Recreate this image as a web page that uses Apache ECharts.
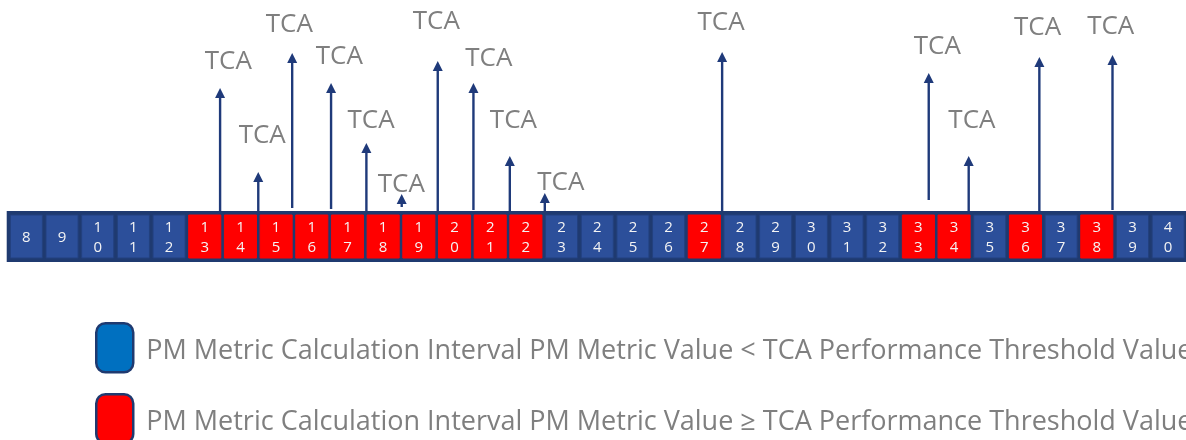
<!DOCTYPE html>
<html>
<head>
<meta charset="utf-8">
<script src="https://cdn.jsdelivr.net/npm/echarts@6/dist/echarts.min.js"></script>
<style>
html,body{margin:0;padding:0;background:#ffffff;}
#chart{width:1186px;height:440px;}
</style>
</head>
<body>
<div id="chart"></div>
<script>
// Calculation intervals shown on the strip
const intervals = [8,9,10,11,12,13,14,15,16,17,18,19,20,21,22,23,24,25,26,27,28,29,30,31,32,33,34,35,36,37,38,39,40];
// 1 = PM metric value >= TCA threshold (red), 0 = below (blue)
const exceeded  = [0,0,0,0,0,1,1,1,1,1,1,1,1,1,1,0,0,0,0,1,0,0,0,0,0,1,1,0,1,0,1,0,0];

// TCA arrows: position on interval axis, arrow tip height, arrow base height
const arrowAt   = [13.43,14.50,15.45,16.54,17.53,18.52,19.53,20.53,21.55,22.53,27.50,33.29,34.41,36.39,38.44];
const arrowTop  = [123,39,158,128,68,17,150,128,55,18,159,138,55,154,156];
const arrowBase = [0,0,3,2,0,4,0,1,0,0,0,11,0,0,1];

// TCA label anchors (interval axis position, height)
const labelAt     = [13.66,14.61,15.37,16.77,17.66,18.51,19.49,20.96,21.65,22.98,27.47,33.53,34.50,36.34,38.39];
const labelHeight = [150,76.5,187,155,91,27.5,190,153,91,29,189,165,91,184,185.5];
const labelText = 'TCA';

const legendBelow = 'PM Metric Calculation Interval PM Metric Value < TCA Performance Threshold Value';
const legendAbove = 'PM Metric Calculation Interval PM Metric Value \u2265 TCA Performance Threshold Value';

const BLUE = '#2c4f9a';
const RED = '#ff0000';
const NAVY = '#1f3a70';
const GRAY = '#7f7f7f';

const belowData = [], aboveData = [];
intervals.forEach((v, i) => { (exceeded[i] ? aboveData : belowData).push([v]); });

function cellRenderer(fill, stroke) {
  return function (params, api) {
    const v = api.value(0);
    const a = api.coord([v - 0.5, -4]);
    const b = api.coord([v + 0.5, -47]);
    const w = b[0] - a[0];
    const s = String(v);
    const txt = s.length > 1 ? s.split('').join('\n') : s;
    return {
      type: 'group',
      children: [
        { type: 'rect', shape: { x: a[0] + 1.8, y: a[1], width: w - 3.6, height: b[1] - a[1] },
          style: { fill: fill, stroke: stroke, lineWidth: 1 } },
        { type: 'text', style: { text: txt, x: (a[0] + b[0]) / 2, y: (a[1] + b[1]) / 2 + 1,
          align: 'center', verticalAlign: 'middle', fill: '#f4f4f4',
          font: '15px "Open Sans"', lineHeight: 20 } }
      ]
    };
  };
}

function legendBox(top, name, fill) {
  return {
    orient: 'vertical', left: 95, top: top, padding: 0, itemWidth: 37, itemHeight: 49,
    selectedMode: false,
    formatter: '{t|{name}}',
    textStyle: {
      fontFamily: 'Open Sans', fontSize: 27, color: GRAY,
      rich: { t: { fontFamily: 'Open Sans', fontSize: 27, color: GRAY, padding: [7, 0, 0, 8] } }
    },
    data: [{ name: name, icon: 'roundRect', itemStyle: { color: fill, borderColor: NAVY, borderWidth: 2.5 } }]
  };
}

const chart = echarts.init(document.getElementById('chart'));
chart.setOption({
  animation: false,
  grid: { left: 8.5, top: 0, width: 1182, height: 262 },
  xAxis: { type: 'value', min: 7.5, max: 40.5, show: false },
  yAxis: { type: 'value', min: -51, max: 211, show: false },
  legend: [legendBox(322, legendBelow, '#0070c0'), legendBox(393, legendAbove, RED)],
  series: [
    {
      type: 'custom', name: 'frame', silent: true,
      data: [[intervals[0] - 0.55, intervals[intervals.length - 1] + 0.5]],
      renderItem: function (params, api) {
        const a = api.coord([api.value(0), 0]);
        const b = api.coord([api.value(1), -51]);
        return { type: 'rect', shape: { x: a[0], y: a[1], width: b[0] - a[0], height: b[1] - a[1] },
          style: { fill: NAVY } };
      }
    },
    { type: 'custom', name: legendBelow, data: belowData, itemStyle: { color: '#0070c0' },
      renderItem: cellRenderer(BLUE, '#23407e') },
    { type: 'custom', name: legendAbove, data: aboveData, itemStyle: { color: RED },
      renderItem: cellRenderer(RED, RED) },
    {
      type: 'custom', name: 'arrows', silent: true,
      data: arrowAt.map((x, i) => [x, arrowTop[i], arrowBase[i]]),
      renderItem: function (params, api) {
        const p0 = api.coord([api.value(0), api.value(2)]);
        const p1 = api.coord([api.value(0), api.value(1)]);
        return {
          type: 'group',
          children: [
            { type: 'line', shape: { x1: p0[0], y1: p0[1], x2: p1[0], y2: p1[1] + 8 },
              style: { stroke: '#1f3a7a', lineWidth: 2.4 } },
            { type: 'polygon', shape: { points: [[p1[0], p1[1]], [p1[0] - 5, p1[1] + 10], [p1[0] + 5, p1[1] + 10]] },
              style: { fill: '#1f3a7a' } }
          ]
        };
      }
    },
    {
      type: 'custom', name: 'labels', silent: true,
      data: labelAt.map((x, i) => [x, labelHeight[i]]),
      renderItem: function (params, api) {
        const p = api.coord([api.value(0), api.value(1)]);
        return { type: 'text', style: { text: labelText, x: p[0], y: p[1] + 1, align: 'center',
          verticalAlign: 'middle', fill: GRAY, font: '26px "Open Sans"' } };
      }
    }
  ]
});
</script>
</body>
</html>
